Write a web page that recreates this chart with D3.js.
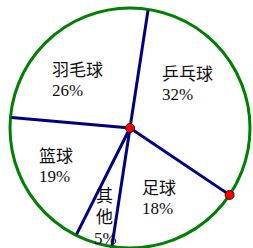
<!DOCTYPE html>
<html>
<head>
<meta charset="utf-8">
<script src="https://cdn.jsdelivr.net/npm/d3@7"></script>
<style>
  body { margin: 0; background: #fff; }
  svg text { font-family: "Liberation Serif", "Noto Sans CJK SC", serif; font-size: 17px; fill: #111; }
</style>
</head>
<body>
<svg id="chart" width="253" height="248"></svg>
<script>
var names = ["乒乓球", "足球", "其他", "篮球", "羽毛球"];
var values = [32, 18, 5, 19, 26];
var vertical = [false, false, true, false, false];

// label anchor (left x, first baseline) for each slice
var labelAt = [[162, 80], [142, 194], [96, 202], [39, 162], [52, 76]];

var cx = 130, cy = 128, r = 120;
var startDeg = 8.7;

var svg = d3.select("#chart");
var g = svg.append("g").attr("transform", "translate(" + cx + "," + cy + ")");

var pie = d3.pie().sort(null)
  .startAngle(startDeg * Math.PI / 180)
  .endAngle((startDeg + 360) * Math.PI / 180);
var arcs = pie(values);

g.append("circle")
  .attr("r", r)
  .attr("fill", "none")
  .attr("stroke", "#008000")
  .attr("stroke-width", 3);

g.selectAll(".radius")
  .data(arcs)
  .enter()
  .append("line")
  .attr("class", "radius")
  .attr("x1", 0).attr("y1", 0)
  .attr("x2", function(d) {return (r - 1) * Math.sin(d.startAngle);})
  .attr("y2", function(d) {return -(r - 1) * Math.cos(d.startAngle);})
  .attr("stroke", "#000080")
  .attr("stroke-width", 3);

// red points: centre and end of first slice
var dots = [{x: 0, y: 0}, {x: r * Math.sin(arcs[0].endAngle), y: -r * Math.cos(arcs[0].endAngle)}];
g.selectAll(".dot")
  .data(dots)
  .enter()
  .append("circle")
  .attr("class", "dot")
  .attr("cx", function(d) {return d.x;})
  .attr("cy", function(d) {return d.y;})
  .attr("r", 4.5)
  .attr("fill", "#ff0000")
  .attr("stroke", "#400000")
  .attr("stroke-width", 1);

var label = svg.selectAll(".label")
  .data(arcs)
  .enter()
  .append("text")
  .attr("class", "label");

label.each(function(d, i) {
  var lines = vertical[i] ? names[i].split("").concat([values[i] + "%"]) : [names[i], values[i] + "%"];
  var step = vertical[i] ? 21 : 20;
  d3.select(this).selectAll("tspan")
    .data(lines)
    .enter()
    .append("tspan")
    .attr("x", function(t, k) {return labelAt[i][0] - (k == lines.length - 1 && vertical[i] ? 2 : 0);})
    .attr("y", function(t, k) {return labelAt[i][1] + k * step;})
    .text(function(t) {return t;});
});
</script>
</body>
</html>
